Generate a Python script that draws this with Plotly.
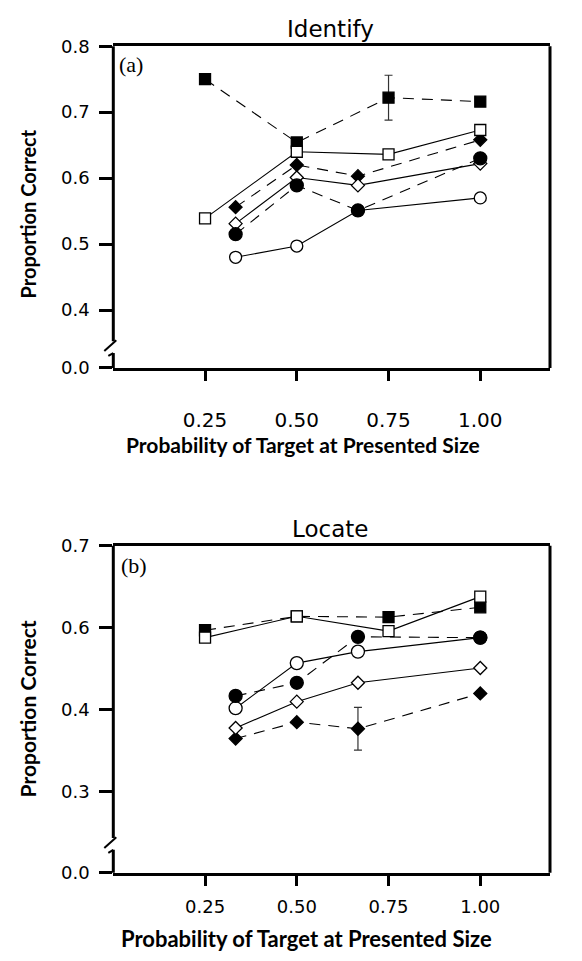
import plotly.graph_objects as go

# ---------------- data ----------------
x_four = [0.25, 0.50, 0.75, 1.00]
x_three = [1/3, 0.50, 2/3, 1.00]

# Panel (a) Identify
a_filled_square = [0.750, 0.654, 0.722, 0.716]
a_open_square = [0.539, 0.640, 0.636, 0.673]
a_filled_diamond = [0.556, 0.620, 0.603, 0.658]
a_open_diamond = [0.531, 0.601, 0.589, 0.622]
a_filled_circle = [0.515, 0.589, 0.551, 0.630]
a_open_circle = [0.480, 0.497, 0.551, 0.570]
a_filled_square_err = [None, None, 0.034, None]

# Panel (b) Locate (values on the drawn scale)
b_filled_square = [0.597, 0.614, 0.613, 0.625]
b_open_square = [0.588, 0.614, 0.596, 0.638]
b_filled_circle = [0.517, 0.533, 0.589, 0.588]
b_open_circle = [0.502, 0.557, 0.571, 0.588]
b_open_diamond = [0.478, 0.510, 0.533, 0.551]
b_filled_diamond = [0.465, 0.485, 0.477, 0.520]
b_filled_diamond_err = [None, None, 0.026, None]

x_tickvals = [0.25, 0.50, 0.75, 1.00]
x_ticktext = ["0.25", "0.50", "0.75", "1.00"]
a_zero_pos = 0.3126
a_tickvals = [a_zero_pos, 0.4, 0.5, 0.6, 0.7, 0.8]
a_ticktext = ["0.0", "0.4", "0.5", "0.6", "0.7", "0.8"]
b_zero_pos = 0.302
b_tickvals = [b_zero_pos, 0.4, 0.5, 0.6, 0.7]
b_ticktext = ["0.0", "0.3", "0.4", "0.6", "0.7"]

# ---------------- layout geometry ----------------
W, H = 582, 961
def px(p):
    return p / W
def py(p):
    return 1 - p / H

XL, XR = 113.3, 550.0
A_TOP, A_BOT = 36.0, 365.0
B_TOP, B_BOT = 546.7, 881.0

TICKFONT = dict(family="DejaVu Sans", size=18, color="black")

fig = go.Figure()

DASH = "11px,8px"

def add_series(y, xs, xa, ya, symbol, filled, dashed, size, err=None):
    marker = dict(symbol=symbol, size=size,
                  color="black" if filled else "white",
                  line=dict(color="black", width=1.3))
    kw = {}
    if err is not None:
        kw["error_y"] = dict(type="data", array=err, visible=True,
                             color="#333333", thickness=1.2, width=4)
    fig.add_trace(go.Scatter(
        x=xs, y=y, xaxis=xa, yaxis=ya, mode="lines+markers",
        line=dict(color="black", width=1.1, dash=DASH if dashed else "solid"),
        marker=marker, showlegend=False, cliponaxis=False, **kw))

# Panel (a)
add_series(a_filled_square, x_four, "x", "y", "square", True, True, 11, a_filled_square_err)
add_series(a_filled_diamond, x_three, "x", "y", "diamond", True, True, 10)
add_series(a_open_square, x_four, "x", "y", "square", False, False, 11)
add_series(a_open_diamond, x_three, "x", "y", "diamond", False, False, 10)
add_series(a_open_circle, x_three, "x", "y", "circle", False, False, 12)
add_series(a_filled_circle, x_three, "x", "y", "circle", True, True, 13)

# Panel (b)
add_series(b_filled_square, x_four, "x2", "y2", "square", True, True, 11)
add_series(b_filled_diamond, x_three, "x2", "y2", "diamond", True, True, 10, b_filled_diamond_err)
add_series(b_open_square, x_four, "x2", "y2", "square", False, False, 11)
add_series(b_open_diamond, x_three, "x2", "y2", "diamond", False, False, 10)
add_series(b_open_circle, x_three, "x2", "y2", "circle", False, False, 13)
add_series(b_filled_circle, x_three, "x2", "y2", "circle", True, True, 13)

x_range = [0, 1.19]

def xaxis_cfg(domain_anchor, standoff, fsize):
    return dict(domain=[px(XL), px(XR)], range=x_range, anchor=domain_anchor,
                tickvals=x_tickvals, ticktext=x_ticktext,
                ticks="outside", ticklen=10, tickwidth=3, tickcolor="black",
                showline=True, linewidth=3, linecolor="black", mirror=True,
                showgrid=False, zeroline=False,
                tickfont=dict(family="DejaVu Sans", size=fsize, color="black"),
                ticklabelstandoff=standoff)

def yaxis_cfg(anchor, dom, rng, tv, tt):
    return dict(domain=dom, range=rng, anchor=anchor,
                tickvals=tv, ticktext=tt,
                ticks="outside", ticklen=13, tickwidth=3, tickcolor="black",
                showline=False, showgrid=False, zeroline=False,
                tickfont=TICKFONT, ticklabelstandoff=6)

a_range = [a_zero_pos - 0.0005, 0.8]
b_range = [b_zero_pos - 0.0005, 0.7]

fig.update_layout(
    width=W, height=H,
    margin=dict(l=0, r=0, t=0, b=0),
    paper_bgcolor="white", plot_bgcolor="white",
    xaxis=xaxis_cfg("y", 22, 20),
    yaxis=yaxis_cfg("x", [py(A_BOT), py(A_TOP)], a_range, a_tickvals, a_ticktext),
    xaxis2=xaxis_cfg("y2", 6, 18),
    yaxis2=yaxis_cfg("x2", [py(B_BOT), py(B_TOP)], b_range, b_tickvals, b_ticktext),
)

# ---------------- frame decorations (left axis with break, right border) ----------------
def v_a(p):
    return 0.8 - (p - A_TOP) / 675.0
def v_b(p):
    return 0.7 - (p - B_TOP) / 840.0

shapes = []
def seg(x0, y0, x1, y1, yref, w=3):
    shapes.append(dict(type="line", xref="paper", yref=yref,
                       x0=px(x0), x1=px(x1), y0=y0, y1=y1,
                       line=dict(color="black", width=w), layer="above"))

for yref, vf, top, bot, brk in (("y", v_a, A_TOP, A_BOT, 338.0), ("y2", v_b, B_TOP, B_BOT, 846.0)):
    seg(XL, vf(top - 1.5), XL, vf(brk), yref)
    seg(XL, vf(brk + 12), XL, vf(bot + 1.5), yref)
    seg(XL - 9, vf(brk + 10), XL + 3, vf(brk - 1), yref, 2)
    seg(XL - 5, vf(brk + 15), XL, vf(brk + 12), yref, 2)
    seg(XR, vf(top - 1.5), XR, vf(bot + 1.5), yref)

fig.update_layout(shapes=shapes)

# ---------------- text ----------------
ann = []
def text(x, y, s, font, angle=0, xanchor="center"):
    ann.append(dict(x=px(x), y=py(y), xref="paper", yref="paper", text=s,
                    showarrow=False, font=font, textangle=angle,
                    xanchor=xanchor, yanchor="middle"))

text(330, 18, "Identify", dict(family="DejaVu Sans", size=23, color="black"))
text(330, 530, "Locate", dict(family="DejaVu Sans", size=23, color="black"))
text(117, 55, "(a)", dict(family="Liberation Serif", size=22, color="black"), xanchor="left")
text(119, 567, "(b)", dict(family="Liberation Serif", size=22, color="black"), xanchor="left")
text(28, 208, "<b>Proportion Correct</b>", dict(family="Lato", size=20, color="black"), angle=-90)
text(27, 714, "<b>Proportion Correct</b>", dict(family="Lato", size=21, color="black"), angle=-90)
text(303, 443, "<b>Probability of Target at Presented Size</b>", dict(family="Lato", size=21, color="black"))
text(306, 948, "<b>Probability of Target at Presented Size</b>", dict(family="Lato", size=22, color="black"))

fig.update_layout(annotations=ann)

fig.write_html("out.html")
